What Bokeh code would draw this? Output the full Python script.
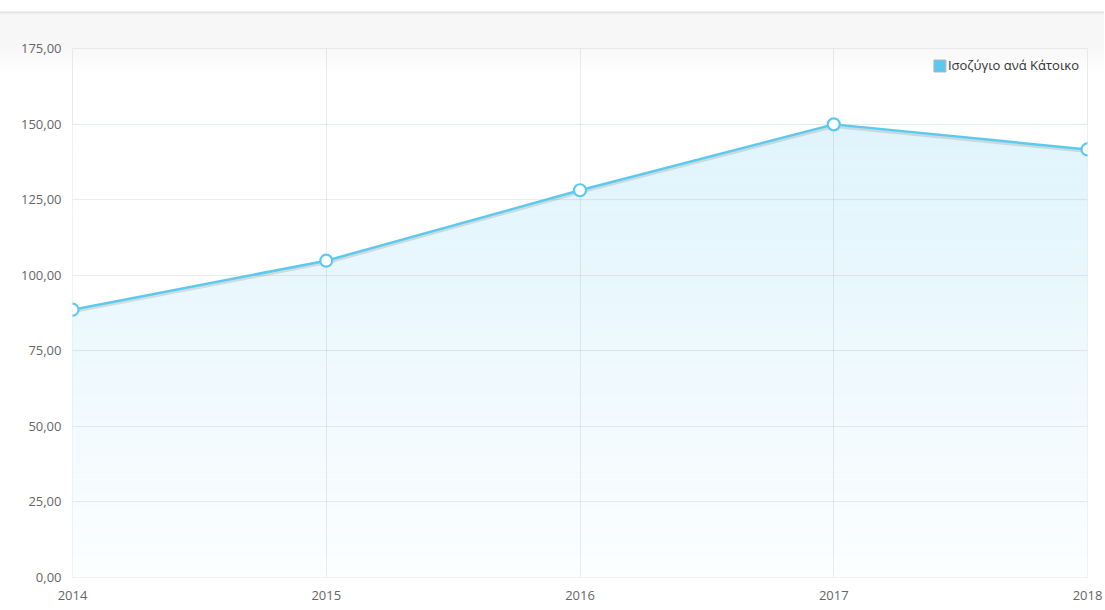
import numpy as np
from bokeh.plotting import figure
from bokeh.models import (FixedTicker, CustomJSTickFormatter, Legend, LegendItem,
                          ColumnDataSource, Range1d)
from bokeh.embed import file_html
from bokeh.resources import INLINE

# ---- data ----
years = [2014, 2015, 2016, 2017, 2018]
values = [88.6, 104.8, 128.1, 149.9, 141.6]
series_name = "Ισοζύγιο ανά Κάτοικο"
y_ticks = [0, 25, 50, 75, 100, 125, 150, 175]
x_ticks = [2014, 2015, 2016, 2017, 2018]

LINE = "#5ccaee"
FONT = "Open Sans"

p = figure(width=1104, height=602, output_backend="svg", toolbar_location=None,
           x_range=Range1d(years[0], years[-1]), y_range=Range1d(0, 175),
           min_border_left=72, min_border_right=17, min_border_top=48,
           min_border_bottom=25)
p.styles = {"background": "linear-gradient(to bottom, #ffffff 0px, #ffffff 11px, "
                          "#dedede 12px, #ececec 13px, #f6f6f6 15px, #f7f7f7 46px, "
                          "#ffffff 74px, #ffffff 100%)"}
p.border_fill_color = None
p.background_fill_color = None
p.outline_line_color = "#e9e9e9"
p.outline_line_width = 1

# gradient fill under the line: horizontal bands up to the series maximum
top = max(values)
n = 60
edges = np.linspace(0, top, n + 1)
c0 = np.array([252, 254, 255])
c1 = np.array([223, 244, 252])
cols = []
for k in range(n):
    t = (edges[k] + edges[k + 1]) / 2 / top
    c = (c0 + (c1 - c0) * t).round().astype(int)
    cols.append("#%02x%02x%02x" % tuple(c))
band_src = ColumnDataSource(dict(left=[years[0]] * n, right=[years[-1]] * n,
                                 bottom=edges[:-1], top=edges[1:], color=cols))
p.quad(left="left", right="right", bottom="bottom", top="top", fill_color="color",
       line_color="color", line_width=0.5, source=band_src, level="image")
# white mask above the line
p.varea(x=years, y1=values, y2=[top] * len(years), fill_color="white", level="image")

# legend swatch renderer: zero-size quads at the data points (invisible on the plot)
sw = p.quad(left=years, right=years, top=values, bottom=values, fill_color="#5cc8f0",
            line_color="#b5b5b5", line_width=1)

# shadow + line
shadow = [v - 0.7 for v in values]
p.line(years, shadow, line_color="#000000", line_alpha=0.11, line_width=3)
line_r = p.line(years, values, line_color=LINE, line_width=2.5)
p.scatter(years, values, size=12, fill_color="white", line_color=LINE, line_width=2.2)

legend = Legend(items=[LegendItem(label=series_name, renderers=[sw])],
                location="top_right", orientation="vertical",
                background_fill_alpha=0, border_line_color=None,
                label_text_font=FONT, label_text_font_size="13px",
                label_text_color="#333333", glyph_width=15, glyph_height=15,
                label_standoff=1, padding=2, margin=8, label_height=14)
p.add_layout(legend)

# axes
p.xaxis.ticker = FixedTicker(ticks=x_ticks)
p.yaxis.ticker = FixedTicker(ticks=y_ticks)
p.yaxis.formatter = CustomJSTickFormatter(code="return tick.toFixed(2).replace('.', ',');")
p.xaxis.formatter = CustomJSTickFormatter(code="return tick.toFixed(0);")
for ax in (p.xaxis, p.yaxis):
    ax.axis_line_color = None
    ax.major_tick_line_color = None
    ax.minor_tick_line_color = None
    ax.major_label_text_font = FONT
    ax.major_label_text_font_size = "13px"
    ax.major_label_text_color = "#666666"
p.yaxis.major_label_standoff = 5
p.xaxis.major_label_standoff = 7

p.xgrid.ticker = FixedTicker(ticks=x_ticks)
p.ygrid.ticker = FixedTicker(ticks=y_ticks)
p.grid.grid_line_color = "#000000"
p.grid.grid_line_alpha = 0.075
p.grid.grid_line_width = 1

open("out.html", "w").write(file_html(p, INLINE))
